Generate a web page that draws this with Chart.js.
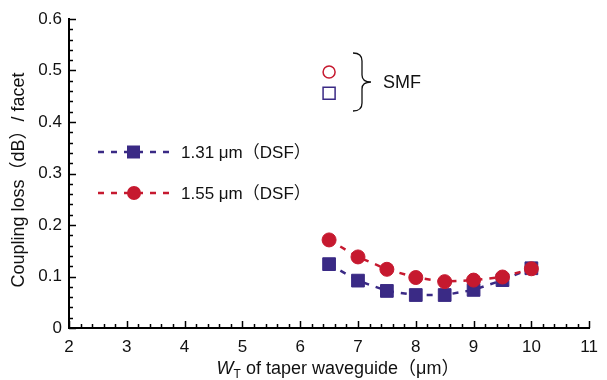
<!DOCTYPE html>
<html>
<head>
<meta charset="utf-8">
<script src="https://cdn.jsdelivr.net/npm/chart.js@4.4.0/dist/chart.umd.min.js"></script>
<style>
  html, body { margin: 0; padding: 0; background: #fff; }
  #chart { display: block; }
</style>
</head>
<body>
<canvas id="chart" width="607" height="380"></canvas>
<script>
// taper width (um) and coupling loss (dB/facet)
const taperWidths = [6.5, 7, 7.5, 8, 8.5, 9, 9.5, 10];
const loss131 = [0.124, 0.092, 0.072, 0.064, 0.064, 0.074, 0.093, 0.116];
const loss155 = [0.171, 0.138, 0.114, 0.098, 0.090, 0.093, 0.099, 0.115];
// SMF reference points
const smfWidths = [6.5];
const smf131 = [0.456];
const smf155 = [0.497];
const xTickValues = [2, 3, 4, 5, 6, 7, 8, 9, 10, 11];
const yTickValues = [0, 0.1, 0.2, 0.3, 0.4, 0.5, 0.6];

const BLUE = '#3a2a85';
const RED = '#c6192f';
const FONT = "'Liberation Sans', Arial, 'Noto Sans CJK JP', sans-serif";

const toPoints = (xs, ys) => xs.map((x, i) => ({ x: x, y: ys[i] }));

// inside-facing ticks, like the original plot
const insideTicks = {
    id: 'insideTicks',
    afterDraw(chart) {
        const ctx = chart.ctx;
        const area = chart.chartArea;
        const xs = chart.scales.x;
        const ys = chart.scales.y;
        ctx.save();
        ctx.strokeStyle = '#000';
        ctx.lineWidth = 1.5;
        for (let i = 0; i <= 30; i++) {
            const py = Math.round(ys.getPixelForValue(i * 0.02)) + 0.5;
            const len = i % 5 === 0 ? 7 : 4;
            ctx.beginPath();
            ctx.moveTo(area.left, py);
            ctx.lineTo(area.left + len, py);
            ctx.stroke();
        }
        for (let i = 0; i <= 45; i++) {
            const px = Math.round(xs.getPixelForValue(2 + i * 0.2)) + 0.5;
            const len = i % 5 === 0 ? 7 : 4;
            ctx.beginPath();
            ctx.moveTo(px, area.bottom);
            ctx.lineTo(px, area.bottom - len);
            ctx.stroke();
        }
        ctx.restore();
    }
};

// legend, SMF brace and axis titles
const annotations = {
    id: 'annotations',
    afterDraw(chart) {
        const ctx = chart.ctx;
        ctx.save();

        // dashed legend entries
        const entries = [
            { y: 152, color: BLUE, shape: 'rect', label: '1.31 μm（DSF）' },
            { y: 193, color: RED, shape: 'circle', label: '1.55 μm（DSF）' }
        ];
        entries.forEach(e => {
            ctx.strokeStyle = e.color;
            ctx.lineWidth = 2.5;
            ctx.setLineDash([6, 7]);
            ctx.beginPath();
            ctx.moveTo(98, e.y);
            ctx.lineTo(172, e.y);
            ctx.stroke();
            ctx.setLineDash([]);
            ctx.fillStyle = e.color;
            ctx.beginPath();
            if (e.shape === 'rect') {
                ctx.rect(127, e.y - 6.5, 13, 13);
            } else {
                ctx.arc(134, e.y, 7, 0, Math.PI * 2);
            }
            ctx.fill();
            ctx.fillStyle = '#111';
            ctx.font = '17px ' + FONT;
            ctx.textAlign = 'left';
            ctx.textBaseline = 'middle';
            ctx.fillText(e.label, 181, e.y + 1);
        });

        // brace for SMF
        ctx.strokeStyle = '#111';
        ctx.lineWidth = 1.3;
        ctx.beginPath();
        ctx.moveTo(353, 53);
        ctx.quadraticCurveTo(362, 53, 362, 61);
        ctx.lineTo(362, 75);
        ctx.quadraticCurveTo(362, 82, 371, 82);
        ctx.quadraticCurveTo(362, 82, 362, 89);
        ctx.lineTo(362, 103);
        ctx.quadraticCurveTo(362, 111, 353, 111);
        ctx.stroke();
        ctx.fillStyle = '#111';
        ctx.font = '18px ' + FONT;
        ctx.textBaseline = 'middle';
        ctx.fillText('SMF', 383, 83);

        // y axis title
        ctx.save();
        ctx.translate(19, 180);
        ctx.rotate(-Math.PI / 2);
        ctx.textAlign = 'center';
        ctx.textBaseline = 'middle';
        ctx.font = '18px ' + FONT;
        ctx.fillText('Coupling loss（dB）/ facet', 0, 0);
        ctx.restore();

        // x axis title with subscript
        const parts = [
            { t: 'W', font: 'italic 18px ' + FONT, dy: 0 },
            { t: 'T', font: '12px ' + FONT, dy: 4 },
            { t: ' of taper waveguide（μm）', font: '18px ' + FONT, dy: 0 }
        ];
        let total = 0;
        parts.forEach(p => { ctx.font = p.font; p.w = ctx.measureText(p.t).width; total += p.w; });
        let cx = 338 - total / 2;
        ctx.textAlign = 'left';
        ctx.textBaseline = 'alphabetic';
        parts.forEach(p => {
            ctx.font = p.font;
            ctx.fillText(p.t, cx, 374 + p.dy);
            cx += p.w;
        });
        ctx.restore();
    }
};

new Chart(document.getElementById('chart'), {
    type: 'scatter',
    data: {
        datasets: [
            {
                label: '1.55 μm (DSF)',
                data: toPoints(taperWidths, loss155),
                showLine: true,
                borderColor: RED,
                borderWidth: 2.5,
                borderDash: [6, 7],
                backgroundColor: RED,
                pointStyle: 'circle',
                pointRadius: 7,
                pointBorderWidth: 1,
                pointBorderColor: RED,
                pointBackgroundColor: RED
            },
            {
                label: '1.31 μm (DSF)',
                data: toPoints(taperWidths, loss131),
                showLine: true,
                borderColor: BLUE,
                borderWidth: 2.5,
                borderDash: [6, 7],
                backgroundColor: BLUE,
                pointStyle: 'rect',
                pointRadius: 9,
                pointBorderWidth: 1,
                pointBorderColor: BLUE,
                pointBackgroundColor: BLUE
            },
            {
                label: '1.55 μm (SMF)',
                data: toPoints(smfWidths, smf155),
                pointStyle: 'circle',
                pointRadius: 6,
                pointBorderWidth: 1.5,
                pointBorderColor: RED,
                pointBackgroundColor: '#fff'
            },
            {
                label: '1.31 μm (SMF)',
                data: toPoints(smfWidths, smf131),
                pointStyle: 'rect',
                pointRadius: 8.5,
                pointBorderWidth: 1.5,
                pointBorderColor: BLUE,
                pointBackgroundColor: '#fff'
            }
        ]
    },
    options: {
        responsive: false,
        animation: false,
        clip: false,
        layout: { padding: { top: 19, right: 10, left: 0, bottom: 0 } },
        plugins: {
            legend: { display: false },
            tooltip: { enabled: false }
        },
        scales: {
            x: {
                type: 'linear',
                min: 2,
                max: 11,
                afterFit: s => { s.height = 52; },
                afterBuildTicks: s => { s.ticks = xTickValues.map(v => ({ value: v })); },
                grid: { display: false, drawTicks: false },
                border: { display: true, color: '#000', width: 2 },
                ticks: { color: '#111', padding: 9, font: { family: FONT, size: 17 } }
            },
            y: {
                type: 'linear',
                min: 0,
                max: 0.6,
                afterFit: s => { s.width = 69; },
                afterBuildTicks: s => { s.ticks = yTickValues.map(v => ({ value: v })); },
                grid: { display: false, drawTicks: false },
                border: { display: true, color: '#000', width: 2 },
                ticks: {
                    color: '#111',
                    padding: 7,
                    font: { family: FONT, size: 17 },
                    callback: v => String(Math.round(v * 10) / 10)
                }
            }
        }
    },
    plugins: [insideTicks, annotations]
});
</script>
</body>
</html>
